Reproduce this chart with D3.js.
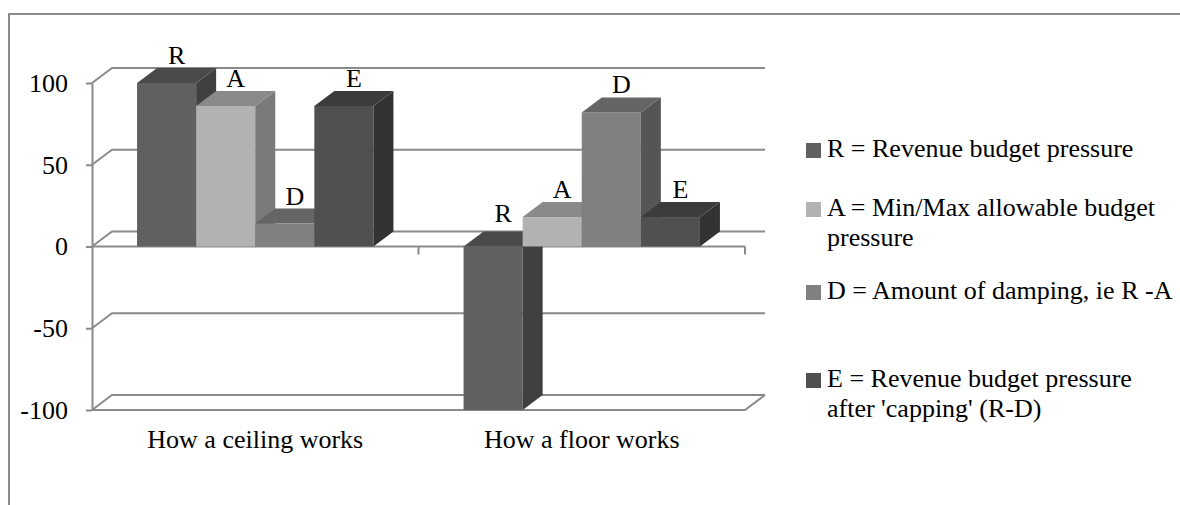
<!DOCTYPE html>
<html>
<head>
<meta charset="utf-8">
<script src="https://cdn.jsdelivr.net/npm/d3@7"></script>
<style>
  html, body { margin: 0; padding: 0; background: #fff; }
  svg { display: block; }
  text { font-family: "Liberation Serif", "Times New Roman", serif; fill: #000; }
</style>
</head>
<body>
<svg id="chart" width="1180" height="505"></svg>
<script>
// ---- data ----
const categories = ["How a ceiling works", "How a floor works"];
const seriesNames = ["R", "A", "D", "E"];
const valuesR = [100, -100];
const valuesA = [86, 18];
const valuesD = [14, 82];
const valuesE = [86, 18];
const yTickValues = [-100, -50, 0, 50, 100];
const legendLabels = [
  ["R = Revenue budget pressure"],
  ["A = Min/Max allowable budget", "pressure"],
  ["D = Amount of damping, ie R -A"],
  ["E = Revenue budget pressure", "after 'capping' (R-D)"]
];

const seriesValues = { R: valuesR, A: valuesA, D: valuesD, E: valuesE };
const colors = {
  R: { front: "#606060", side: "#404040", top: "#4a4a4a" },
  A: { front: "#b2b2b2", side: "#7a7a7a", top: "#8a8a8a" },
  D: { front: "#808080", side: "#555555", top: "#656565" },
  E: { front: "#505050", side: "#333333", top: "#3c3c3c" }
};

const svg = d3.select("#chart");
const gridColor = "#8a8a8a";
const fontSize = 26;

// chart frame
svg.append("path")
  .attr("d", "M9,505 L9,14 L1180,14")
  .attr("fill", "none").attr("stroke", gridColor).attr("stroke-width", 2);

const left = 92, right = 745;
const dx = 20, dy = -15;
const y = d3.scaleLinear().domain([-100, 100]).range([410, 83]);
const x0 = d3.scaleBand().domain(categories).range([left, right]);
const gap = x0.bandwidth() * 0.138;
const x1 = d3.scaleBand().domain(seriesNames).range([gap, x0.bandwidth() - gap]);

// back wall gridlines with side-wall diagonals
const grid = svg.append("g").attr("fill", "none").attr("stroke", gridColor).attr("stroke-width", 2);
yTickValues.forEach(v => {
  const yy = y(v);
  grid.append("path")
    .attr("d", `M${left},${yy} L${left + dx},${yy + dy} L${right + dx},${yy + dy}`);
});
// floor front edge at min
grid.append("path")
  .attr("d", `M${left},${y(-100)} L${right},${y(-100)} L${right + dx},${y(-100) + dy}`);
// zero plane front edge
grid.append("path")
  .attr("d", `M${left},${y(0)} L${right},${y(0)}`);
// category ticks
x0.domain().forEach(c => {
  const xx = x0(c) + x0.bandwidth();
  grid.append("line").attr("x1", xx).attr("x2", xx).attr("y1", y(0)).attr("y2", y(0) + 8);
});

// value axis
const yAxis = d3.axisLeft(y).tickValues(yTickValues).tickSize(6).tickSizeOuter(0).tickPadding(18)
  .tickFormat(d => String(d));
const ax = svg.append("g").attr("transform", `translate(${left},0)`).call(yAxis);
ax.select(".domain").attr("stroke", gridColor).attr("stroke-width", 2);
ax.selectAll(".tick line").attr("stroke", gridColor).attr("stroke-width", 2);
ax.selectAll(".tick text")
  .attr("font-family", "Liberation Serif, Times New Roman, serif")
  .attr("font-size", fontSize).attr("fill", "#000");

// bars (3D)
const bars = svg.append("g");
const labels = svg.append("g");
categories.forEach((c, ci) => {
  seriesNames.forEach(s => {
    const v = seriesValues[s][ci];
    const xl = x0(c) + x1(s);
    const w = x1.bandwidth();
    const yTop = y(Math.max(v, 0));
    const yBot = y(Math.min(v, 0));
    const col = colors[s];
    bars.append("rect").attr("x", xl).attr("y", yTop).attr("width", w).attr("height", yBot - yTop)
      .attr("fill", col.front);
    bars.append("path")
      .attr("d", `M${xl + w},${yTop} L${xl + w + dx},${yTop + dy} L${xl + w + dx},${yBot + dy} L${xl + w},${yBot} Z`)
      .attr("fill", col.side);
    bars.append("path")
      .attr("d", `M${xl},${yTop} L${xl + dx},${yTop + dy} L${xl + w + dx},${yTop + dy} L${xl + w},${yTop} Z`)
      .attr("fill", col.top);
    labels.append("text")
      .attr("x", xl + w / 2 + dx / 2)
      .attr("y", yTop + dy - (v < 0 ? 10 : 4))
      .attr("text-anchor", "middle")
      .attr("font-size", fontSize)
      .text(s);
  });
});

// category labels
categories.forEach(c => {
  svg.append("text")
    .attr("x", x0(c) + x0.bandwidth() / 2)
    .attr("y", 448)
    .attr("text-anchor", "middle")
    .attr("font-size", fontSize)
    .text(c);
});

// legend
const legendBaselines = [157, 216, 299, 387];
const lg = svg.append("g");
seriesNames.forEach((s, i) => {
  const by = legendBaselines[i];
  lg.append("rect").attr("x", 806).attr("y", by - 14).attr("width", 15).attr("height", 15)
    .attr("fill", colors[s].front);
  const t = lg.append("text").attr("x", 827).attr("y", by).attr("font-size", fontSize);
  legendLabels[i].forEach((line, li) => {
    t.append("tspan").attr("x", 827).attr("dy", li === 0 ? 0 : 30).text(line);
  });
});
</script>
</body>
</html>
